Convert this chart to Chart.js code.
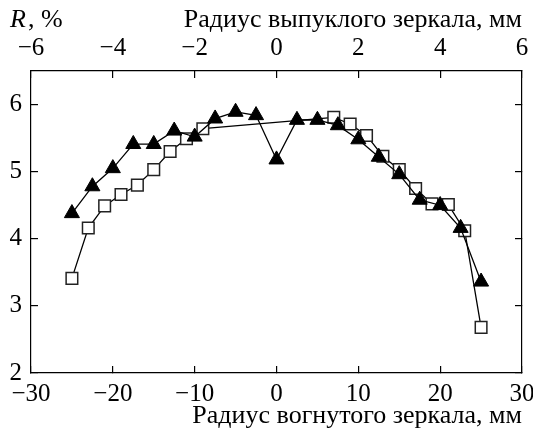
<!DOCTYPE html>
<html lang="ru">
<head>
  <meta charset="UTF-8" />
  <title>R vs radius</title>
  <script src="https://cdn.jsdelivr.net/npm/chart.js"></script>
  <style>
    html, body { margin: 0; padding: 0; background: #fff; }
    #wrap { width: 533px; height: 434px; position: relative; }
  </style>
</head>
<body>
  <div id="wrap"><canvas id="chart"></canvas></div>

  <script>
    // tick values
    const xTicks = [-30, -20, -10, 0, 10, 20, 30];
    const x2Ticks = [-6, -4, -2, 0, 2, 4, 6];
    const yTicks = [2, 3, 4, 5, 6];

    // filled triangles
    const triX = [-25, -22.5, -20, -17.5, -15, -12.5, -10, -7.5, -5, -2.5, 0,
                  2.5, 5, 7.5, 10, 12.5, 15, 17.5, 20, 22.5, 25];
    const triR = [4.38, 4.78, 5.05, 5.41, 5.41, 5.61, 5.52, 5.79, 5.89, 5.84, 5.18,
                  5.77, 5.77, 5.69, 5.48, 5.22, 4.96, 4.58, 4.50, 4.16, 3.36];

    // open squares
    const sqX = [-25, -23, -21, -19, -17, -15, -13, -11, -9,
                 7, 9, 11, 13, 15, 17, 19, 21, 23, 25];
    const sqR = [3.41, 4.16, 4.49, 4.66, 4.80, 5.03, 5.30, 5.49, 5.64,
                 5.81, 5.71, 5.54, 5.23, 5.03, 4.75, 4.52, 4.51, 4.12, 2.68];

    const FONT = "'Liberation Serif', 'Times New Roman', serif";
    const tickSize = 25;
    const titleSize = 26;
    const minus = v => String(v).replace('-', '\u2212');
    const setTicks = arr => s => { s.ticks = arr.map(v => ({ value: v })); };
    const fixBox = (w, h) => s => {
      if (w !== null) s.width = w;
      if (h !== null) s.height = h;
      s.paddingLeft = 0; s.paddingRight = 0;
      s.paddingTop = 0; s.paddingBottom = 0;
    };

    const frame = {
      display: true, drawOnChartArea: false, drawTicks: true,
      tickLength: -7, lineWidth: 1.2, color: '#000'
    };
    const border = { display: true, color: '#000', width: 1.2 };

    // "R, %" label in the top-left corner
    const cornerLabel = {
      id: 'cornerLabel',
      afterDraw(chart) {
        const ctx = chart.ctx;
        ctx.save();
        ctx.fillStyle = '#000';
        ctx.textBaseline = 'alphabetic';
        ctx.textAlign = 'left';
        ctx.font = 'italic ' + titleSize + 'px ' + FONT;
        ctx.fillText('R', 10, 27);
        const w = ctx.measureText('R').width;
        ctx.font = titleSize + 'px ' + FONT;
        ctx.fillText(', %', 10 + w + 2, 27);
        ctx.restore();
      }
    };

    new Chart(document.getElementById('chart'), {
      type: 'scatter',
      data: {
        datasets: [
          {
            label: 'triangles',
            data: triX.map((x, i) => ({ x: x, y: triR[i] })),
            showLine: true,
            borderColor: '#000',
            borderWidth: 1.3,
            pointStyle: 'triangle',
            pointRadius: 8.7,
            pointBackgroundColor: '#000',
            pointBorderColor: '#000',
            pointBorderWidth: 1,
            clip: false
          },
          {
            label: 'squares',
            data: sqX.map((x, i) => ({ x: x, y: sqR[i] })),
            showLine: true,
            borderColor: '#000',
            borderWidth: 1.3,
            pointStyle: 'rect',
            pointRadius: 8.2,
            pointBackgroundColor: '#fff',
            pointBorderColor: '#222',
            pointBorderWidth: 1.5,
            clip: false
          }
        ]
      },
      options: {
        responsive: true,
        maintainAspectRatio: false,
        animation: false,
        layout: { padding: 0 },
        plugins: { legend: { display: false }, tooltip: { enabled: false } },
        scales: {
          x: {
            type: 'linear', position: 'bottom', min: -30, max: 30,
            afterBuildTicks: setTicks(xTicks),
            afterFit: fixBox(null, 61),
            grid: frame, border: border,
            ticks: { color: '#000', padding: 13, maxRotation: 0,
                     font: { family: FONT, size: tickSize }, callback: minus },
            title: { display: true, text: 'Радиус вогнутого зеркала, мм', align: 'end',
                     color: '#000', font: { family: FONT, size: titleSize },
                     padding: { top: 0, bottom: 2 } }
          },
          x2: {
            type: 'linear', position: 'top', min: -6, max: 6,
            afterBuildTicks: setTicks(x2Ticks),
            afterFit: fixBox(null, 71),
            grid: frame, border: border,
            ticks: { color: '#000', padding: 15, maxRotation: 0,
                     font: { family: FONT, size: tickSize }, callback: minus },
            title: { display: true, text: 'Радиус выпуклого зеркала, мм', align: 'end',
                     color: '#000', font: { family: FONT, size: titleSize },
                     padding: { top: 5, bottom: 0 } }
          },
          y: {
            type: 'linear', position: 'left', min: 2, max: 6.5,
            afterBuildTicks: setTicks(yTicks),
            afterFit: fixBox(31, null),
            grid: frame, border: border,
            ticks: { color: '#000', padding: 16,
                     font: { family: FONT, size: tickSize } }
          },
          y2: {
            type: 'linear', position: 'right', min: 2, max: 6.5,
            afterBuildTicks: setTicks(yTicks),
            afterFit: fixBox(11, null),
            grid: frame, border: border,
            ticks: { display: false }
          }
        }
      },
      plugins: [cornerLabel]
    });
  </script>
</body>
</html>
